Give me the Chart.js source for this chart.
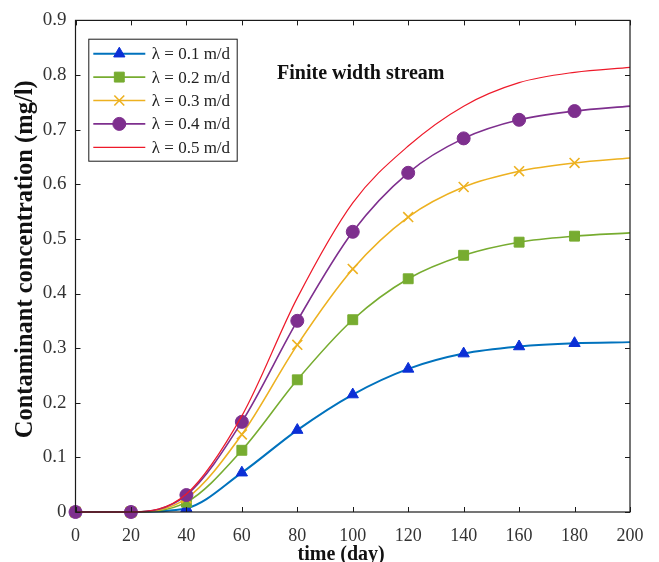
<!DOCTYPE html>
<html><head><meta charset="utf-8">
<script src="https://cdn.jsdelivr.net/npm/chart.js@4.4.1/dist/chart.umd.min.js"></script>
<style>html,body{margin:0;padding:0;background:#fff}canvas{display:block}</style>
</head><body>
<canvas id="c" width="659" height="562"></canvas>
<script>
// ---- data ----
const days = [0, 20, 40, 60, 80, 100, 120, 140, 160, 180, 200];
const conc01 = [0, 0, 0.007, 0.072, 0.150, 0.215, 0.262, 0.290, 0.303, 0.309, 0.311];
const conc02 = [0, 0, 0.018, 0.113, 0.242, 0.352, 0.427, 0.470, 0.494, 0.505, 0.511];
const conc03 = [0, 0, 0.025, 0.142, 0.306, 0.445, 0.540, 0.595, 0.624, 0.639, 0.648];
const conc04 = [0, 0, 0.031, 0.165, 0.350, 0.513, 0.621, 0.684, 0.718, 0.734, 0.743];
const conc05 = [0, 0, 0.033, 0.176, 0.392, 0.566, 0.670, 0.743, 0.786, 0.805, 0.814];
const markerDays = [0, 20, 40, 60, 80, 100, 120, 140, 160, 180];
const seriesLabels = ['λ = 0.1 m/d', 'λ = 0.2 m/d', 'λ = 0.3 m/d', 'λ = 0.4 m/d', 'λ = 0.5 m/d'];
const xTickValues = [0, 20, 40, 60, 80, 100, 120, 140, 160, 180, 200];
const yTickValues = [0, 0.1, 0.2, 0.3, 0.4, 0.5, 0.6, 0.7, 0.8, 0.9];
const xTitle = 'time (day)';
const yTitle = 'Contaminant concentration (mg/l)';
const plotTitle = 'Finite width stream';

const SERIF = '"Liberation Serif", "Times New Roman", serif';
const toXY = arr => days.map((d, i) => ({x: d, y: arr[i]}));

const styles = [
  {line:'#0072BD', fill:'#0b2fd6', style:'triangle', r:6.5, lw:2, bw:1},
  {line:'#77AC30', fill:'#77AC30', style:'rect', r:7, lw:1.6, bw:1},
  {line:'#EDB120', fill:'#EDB120', style:'crossRot', r:7, lw:1.6, bw:1.6},
  {line:'#7E2F8E', fill:'#7E2F8E', style:'circle', r:6.5, lw:1.6, bw:1},
  {line:'#EE1A2A', fill:'#EE1A2A', style:false, r:0, lw:1.2, bw:1}
];
const series = [conc01, conc02, conc03, conc04, conc05];

const datasets = series.map((arr, i) => ({
  label: seriesLabels[i],
  data: toXY(arr),
  borderColor: styles[i].line,
  backgroundColor: styles[i].fill,
  borderWidth: styles[i].lw,
  pointStyle: styles[i].style,
  pointRadius: days.map(d => markerDays.includes(d) ? styles[i].r : 0),
  pointHoverRadius: days.map(d => markerDays.includes(d) ? styles[i].r : 0),
  pointBorderColor: styles[i].style === 'crossRot' ? styles[i].line : styles[i].fill,
  pointBackgroundColor: styles[i].fill,
  pointBorderWidth: styles[i].bw,
  cubicInterpolationMode: 'monotone',
  fill: false,
  clip: false,
  order: 5 - i
}));

function drawMarker(ctx, st, x, y) {
  if (!st.style) return;
  ctx.save();
  ctx.fillStyle = st.fill;
  ctx.strokeStyle = st.style === 'crossRot' ? st.line : st.fill;
  ctx.lineWidth = st.bw;
  if (Chart.helpers && Chart.helpers.drawPoint) {
    Chart.helpers.drawPoint(ctx, {pointStyle: st.style, radius: st.r, rotation: 0, borderWidth: st.bw}, x, y);
  }
  ctx.restore();
}

const decor = {
  id: 'decor',
  afterDatasetsDraw(chart) {
    const {ctx, chartArea: ca, scales} = chart;
    ctx.save();
    ctx.strokeStyle = '#1a1a1a';
    ctx.lineWidth = 1.2;
    ctx.strokeRect(ca.left, ca.top, ca.right - ca.left, ca.bottom - ca.top);
    ctx.lineWidth = 1;
    const tl = 5;
    scales.x.ticks.forEach(t => {
      const px = Math.round(scales.x.getPixelForValue(t.value)) + 0.5;
      ctx.beginPath();
      ctx.moveTo(px, ca.bottom); ctx.lineTo(px, ca.bottom - tl);
      ctx.moveTo(px, ca.top); ctx.lineTo(px, ca.top + tl);
      ctx.stroke();
    });
    scales.y.ticks.forEach(t => {
      const py = Math.round(scales.y.getPixelForValue(t.value)) + 0.5;
      ctx.beginPath();
      ctx.moveTo(ca.left, py); ctx.lineTo(ca.left + tl, py);
      ctx.moveTo(ca.right, py); ctx.lineTo(ca.right - tl, py);
      ctx.stroke();
    });
    // plot title inside the axes
    ctx.fillStyle = '#111';
    ctx.font = 'bold 20px ' + SERIF;
    ctx.textBaseline = 'alphabetic';
    ctx.textAlign = 'left';
    ctx.fillText(plotTitle, scales.x.getPixelForValue(72.7), scales.y.getPixelForValue(0.792));
    // axis titles
    ctx.textAlign = 'center';
    ctx.font = 'bold 20px ' + SERIF;
    ctx.fillText(xTitle, ca.left + (ca.right - ca.left) * 0.479, ca.bottom + 48);
    ctx.save();
    ctx.translate(31.5, ca.top + (ca.bottom - ca.top) * 0.486);
    ctx.rotate(-Math.PI / 2);
    ctx.font = 'bold 24.5px ' + SERIF;
    ctx.fillText(yTitle, 0, 0);
    ctx.restore();
    // legend
    const bx = ca.left + 12.8, by = ca.top + 18.3, bw = 148.4, bh = 122;
    ctx.fillStyle = '#fff';
    ctx.fillRect(bx, by, bw, bh);
    ctx.strokeStyle = '#1a1a1a';
    ctx.lineWidth = 1;
    ctx.strokeRect(bx + 0.5, by + 0.5, bw, bh);
    chart.data.datasets.forEach((ds, i) => {
      const st = styles[i];
      const cy = by + 15 + i * 23.4;
      ctx.strokeStyle = st.line;
      ctx.lineWidth = st.lw;
      ctx.beginPath();
      ctx.moveTo(bx + 5, cy); ctx.lineTo(bx + 57, cy);
      ctx.stroke();
      drawMarker(ctx, st, bx + 31, cy);
      ctx.fillStyle = '#222';
      ctx.font = '17px ' + SERIF;
      ctx.textBaseline = 'middle';
      ctx.textAlign = 'left';
      ctx.fillText(ds.label, bx + 63.5, cy + 1);
    });
    ctx.restore();
  }
};

new Chart(document.getElementById('c'), {
  type: 'line',
  data: {datasets},
  options: {
    responsive: false,
    animation: false,
    devicePixelRatio: 1,
    layout: {padding: {top: 19, right: 29, bottom: 0, left: 0}},
    plugins: {legend: {display: false}, tooltip: {enabled: false}},
    scales: {
      x: {
        type: 'linear', min: 0, max: 200,
        afterBuildTicks: s => { s.ticks = xTickValues.map(v => ({value: v})); },
        afterFit: s => { s.height = 50; },
        grid: {display: false, drawTicks: false},
        border: {display: false},
        ticks: {font: {family: SERIF, size: 18}, color: '#333', padding: 13, maxRotation: 0,
                callback: v => String(v)},
        title: {display: false}
      },
      y: {
        type: 'linear', min: 0, max: 0.9,
        afterBuildTicks: s => { s.ticks = yTickValues.map(v => ({value: v})); },
        afterFit: s => { s.width = 75.5; },
        grid: {display: false, drawTicks: false},
        border: {display: false},
        ticks: {font: {family: SERIF, size: 19}, color: '#333', padding: 9,
                callback: v => String(Number(v.toFixed(1)))},
        title: {display: false}
      }
    }
  },
  plugins: [decor]
});
</script>
</body></html>
